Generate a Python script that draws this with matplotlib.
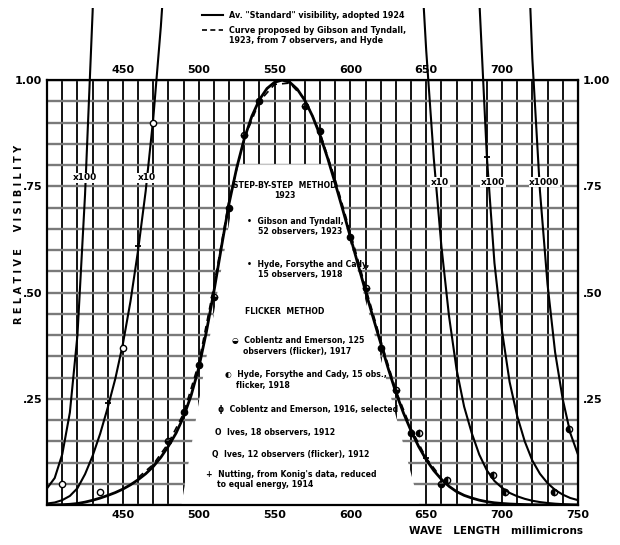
import numpy as np
import matplotlib
matplotlib.use("Agg")
import matplotlib.pyplot as plt
from matplotlib.patches import Rectangle

# ---------------------------------------------------------
# data: standard (1924) relative visibility, 5 mu steps
# ---------------------------------------------------------
wave = [400, 405, 410, 415, 420, 425, 430, 435, 440, 445, 450, 455, 460, 465,
        470, 475, 480, 485, 490, 495, 500, 505, 510, 515, 520, 525, 530, 535,
        540, 545, 550, 555, 560, 565, 570, 575, 580, 585, 590, 595, 600, 605,
        610, 615, 620, 625, 630, 635, 640, 645, 650, 655, 660, 665, 670, 675,
        680, 685, 690, 695, 700, 705, 710, 715, 720, 725, 730, 735, 740, 745, 750]
vis = [0.0004, 0.00064, 0.0012, 0.00218, 0.0040, 0.0073, 0.0116, 0.01684,
       0.023, 0.0298, 0.038, 0.048, 0.060, 0.0739, 0.091, 0.1126, 0.139,
       0.1693, 0.208, 0.2586, 0.323, 0.4073, 0.503, 0.6082, 0.710, 0.7932,
       0.862, 0.9149, 0.954, 0.9803, 0.995, 1.000, 0.995, 0.9786, 0.952,
       0.9154, 0.870, 0.8163, 0.757, 0.6949, 0.631, 0.5668, 0.503, 0.4412,
       0.381, 0.321, 0.265, 0.217, 0.175, 0.1382, 0.107, 0.0816, 0.061,
       0.0446, 0.032, 0.0232, 0.017, 0.0119, 0.0082, 0.0057, 0.0041, 0.0029,
       0.0021, 0.0015, 0.00105, 0.00074, 0.00052, 0.00036, 0.00025, 0.00017,
       0.00012]

# curve proposed by Gibson and Tyndall (dashed)
gt_wave = [460, 470, 480, 490, 500, 510, 520, 530, 540, 550, 560, 570, 580,
           590, 600, 610, 620, 630, 640, 650, 660]
gt_vis = [0.065, 0.096, 0.146, 0.216, 0.334, 0.515, 0.718, 0.862, 0.950,
          0.990, 0.993, 0.955, 0.876, 0.766, 0.641, 0.512, 0.388, 0.270,
          0.180, 0.111, 0.064]

# magnified tails
left_factors = [10, 100]
right_factors = [10, 100, 1000]

# observer points (wavelength, relative visibility)
obs_gt_w = [490, 500, 520, 540, 580, 600, 620, 640]
obs_gt_v = [0.22, 0.33, 0.70, 0.95, 0.88, 0.63, 0.37, 0.17]
obs_hfc_w = [480, 510, 530, 570, 610, 630, 660]
obs_hfc_v = [0.15, 0.49, 0.87, 0.94, 0.51, 0.27, 0.05]
obs_ce_w = [645, 664, 694, 702, 734, 744]
obs_ce_v = [0.17, 0.06, 0.07, 0.03, 0.03, 0.18]
obs_ives_w = [410, 435, 450, 470]
obs_ives_v = [0.05, 0.03, 0.37, 0.90]
obs_nut_w = [440, 460, 650, 690]
obs_nut_v = [0.24, 0.61, 0.11, 0.82]

xticks_bottom = [450, 500, 550, 600, 650, 700, 750]
xticks_top = [450, 500, 550, 600, 650, 700]
yticks = [0.25, 0.50, 0.75, 1.00]
ylabels = ['.25', '.50', '.75', '1.00']

wave = np.array(wave)
vis = np.array(vis)

fig = plt.figure(figsize=(6.2, 5.45), dpi=100)
ax = fig.add_axes([0.076, 0.073, 0.856, 0.780])
ax.set_xlim(400, 750)
ax.set_ylim(0, 1.0)
ax.set_axisbelow(True)

# graph paper
ax.set_xticks(xticks_bottom)
ax.set_xticks(np.arange(400, 751, 10), minor=True)
ax.set_yticks(yticks)
ax.set_yticks(np.arange(0, 1.001, 0.05), minor=True)
ax.grid(axis='x', which='both', color='black', lw=1.3)
ax.grid(axis='y', which='both', color='#7a7a7a', lw=1.7)
ax.tick_params(which='both', length=0)
ax.set_xticklabels([str(v) for v in xticks_bottom], fontsize=8, fontweight='bold')
ax.set_yticklabels(ylabels, fontsize=8, fontweight='bold')
for s in ax.spines.values():
    s.set_linewidth(1.6)

# blank panel under the main curve (for the key)
ax.fill([489, 527, 586, 645], [0.0, 0.80, 0.80, 0.0], color='white', zorder=1)

secx = ax.secondary_xaxis('top')
secx.set_xticks(xticks_top)
secx.set_xticklabels([str(v) for v in xticks_top], fontsize=8, fontweight='bold')
secx.tick_params(length=0)
secy = ax.secondary_yaxis('right')
secy.set_yticks(yticks)
secy.set_yticklabels(ylabels, fontsize=8, fontweight='bold')
secy.tick_params(length=0)

# main curves
ax.plot(wave, vis, color='black', lw=2.0, zorder=3)
ax.plot(gt_wave, gt_vis, color='black', lw=1.2, ls=(0, (4, 3)), zorder=3)

# magnified tails, allowed to run above the frame
clip = Rectangle((400, 0), 350, 1.17, transform=ax.transData)
for f in left_factors:
    m = wave <= 555
    ln, = ax.plot(wave[m], vis[m] * f, color='black', lw=1.5, zorder=3)
    ln.set_clip_path(clip)
for f in right_factors:
    m = wave >= 555
    ln, = ax.plot(wave[m], vis[m] * f, color='black', lw=1.5, zorder=3)
    ln.set_clip_path(clip)

# curve labels
lab_kw = dict(fontsize=6.5, fontweight='bold', ha='center', va='center', zorder=4,
              bbox=dict(fc='white', ec='none', pad=0.5))
ax.text(425, 0.77, 'x100', **lab_kw)
ax.text(466, 0.77, 'x10', **lab_kw)
ax.text(659, 0.76, 'x10', **lab_kw)
ax.text(694, 0.76, 'x100', **lab_kw)
ax.text(728, 0.76, 'x1000', **lab_kw)

# observer points
mk = dict(color='black', ms=4.5, ls='none', zorder=5)
ax.plot(obs_gt_w, obs_gt_v, marker='o', **mk)
ax.plot(obs_hfc_w, obs_hfc_v, marker='o', fillstyle='bottom', mfc='black', **mk)
ax.plot(obs_ce_w, obs_ce_v, marker='o', fillstyle='left', **mk)
ax.plot(obs_ives_w, obs_ives_v, marker='o', mfc='white', **mk)
ax.plot(obs_nut_w, obs_nut_v, marker='+', mew=1.3, **mk)

# key inside the curve
tk = dict(fontsize=5.6, fontweight='bold', va='center', zorder=6)
ax.text(557, 0.74, 'STEP-BY-STEP  METHOD\n1923', ha='center', **tk)
ax.text(532, 0.655, '\u2022  Gibson and Tyndall,\n    52 observers, 1923', **tk)
ax.text(532, 0.555, '\u2022  Hyde, Forsythe and Cady,\n    15 observers, 1918', **tk)
ax.text(557, 0.455, 'FLICKER  METHOD', ha='center', **tk)
ax.text(522, 0.375, '\u25d2  Coblentz and Emerson, 125\n    observers (flicker), 1917', **tk)
ax.text(517, 0.295, '\u25d0  Hyde, Forsythe and Cady, 15 obs.,\n    flicker, 1918', **tk)
ax.text(513, 0.225, '\u03d5  Coblentz and Emerson, 1916, selected', **tk)
ax.text(511, 0.172, 'O  Ives, 18 observers, 1912', **tk)
ax.text(509, 0.12, 'Q  Ives, 12 observers (flicker), 1912', **tk)
ax.text(505, 0.06, '+  Nutting, from Konig\'s data, reduced\n    to equal energy, 1914', **tk)

# outer labels
fig.text(0.03, 0.57, 'R E L A T I V E     V I S I B I L I T Y', rotation=90,
         fontsize=7, fontweight='bold', ha='center', va='center')
fig.text(0.66, 0.026, 'WAVE   LENGTH   millimicrons', fontsize=7.5,
         fontweight='bold', ha='left', va='center')

# legend above the frame
fig.add_artist(plt.Line2D([0.325, 0.36], [0.972, 0.972], color='black', lw=1.5))
fig.add_artist(plt.Line2D([0.325, 0.36], [0.945, 0.945], color='black', lw=1.2,
                          ls=(0, (3, 2))))
lk = dict(fontsize=5.8, fontweight='bold', va='center')
fig.text(0.37, 0.972, 'Av. "Standard" visibility, adopted 1924', **lk)
fig.text(0.37, 0.935, 'Curve proposed by Gibson and Tyndall,\n1923, from 7 observers, and Hyde', **lk)

fig.savefig('out.png', dpi=100)
